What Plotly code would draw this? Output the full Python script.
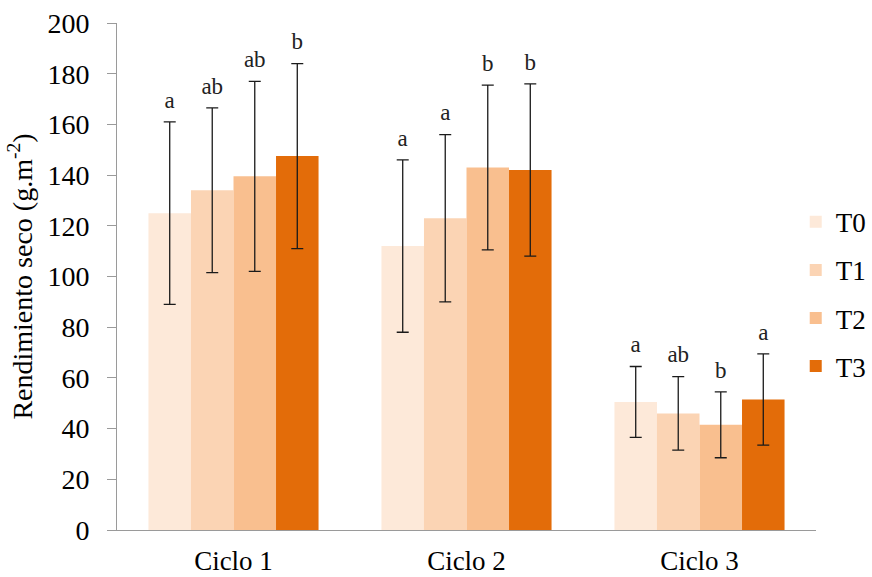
import plotly.graph_objects as go

categories = ["Ciclo 1", "Ciclo 2", "Ciclo 3"]
series_names = ["T0", "T1", "T2", "T3"]
values = {
    "T0": [125, 112, 50.5],
    "T1": [134, 123, 46],
    "T2": [139.5, 143, 41.5],
    "T3": [147.5, 142, 51.5],
}
errors = {
    "T0": [36, 34, 14],
    "T1": [32.5, 33, 14.5],
    "T2": [37.5, 32.5, 13],
    "T3": [36.5, 34, 18],
}
letters = {
    "T0": ["a", "a", "a"],
    "T1": ["ab", "a", "ab"],
    "T2": ["ab", "b", "b"],
    "T3": ["b", "b", "a"],
}
colors = {"T0": "#FDE9D9", "T1": "#FBD4B4", "T2": "#F9BF8F", "T3": "#E36C09"}

FONT = "Liberation Serif, Times New Roman, serif"

fig = go.Figure()
for s in series_names:
    fig.add_trace(go.Bar(
        x=categories, y=values[s], name=s, marker_color=colors[s],
        marker_line_width=0, offsetgroup=s, legendgroup=s,
        error_y=dict(type="data", array=errors[s], color="#1a1a1a",
                     thickness=1.3, width=6),
    ))
for s in series_names:
    fig.add_trace(go.Scatter(
        x=categories, y=[v + e for v, e in zip(values[s], errors[s])],
        mode="markers+text", text=letters[s], textposition="top center",
        marker=dict(size=12, color="rgba(0,0,0,0)"),
        textfont=dict(family=FONT, size=23, color="#222"),
        offsetgroup=s, showlegend=False, hoverinfo="skip",
    ))

fig.update_layout(
    width=872, height=577,
    margin=dict(l=117, r=56, t=23, b=47, autoexpand=False),
    plot_bgcolor="white", paper_bgcolor="white",
    barmode="group", bargap=0.27, bargroupgap=0,
    scattermode="group", scattergap=0.27,
    font=dict(family=FONT, size=28, color="black"),
    legend=dict(x=0.971, xanchor="left", y=0.465, yanchor="middle",
                font=dict(family=FONT, size=27, color="black"),
                traceorder="grouped", tracegroupgap=10,
                itemwidth=30, bgcolor="rgba(0,0,0,0)"),
    showlegend=True,
)
fig.update_yaxes(
    range=[0, 200], dtick=20, showgrid=False, zeroline=False,
    showline=True, linecolor="#9a9a9a", linewidth=1,
    ticks="outside", ticklen=9, tickcolor="#9a9a9a",
    ticklabelstandoff=12,
    tickfont=dict(family=FONT, size=28),
    title=dict(text="Rendimiento seco (g.m<sup>-2</sup>)",
               font=dict(family=FONT, size=28), standoff=6),
)
fig.update_xaxes(
    showline=True, linecolor="#9a9a9a", linewidth=1, showgrid=False,
    tickfont=dict(family=FONT, size=27), ticks="",
    ticklabelstandoff=7,
)

fig.write_html("out.html")
